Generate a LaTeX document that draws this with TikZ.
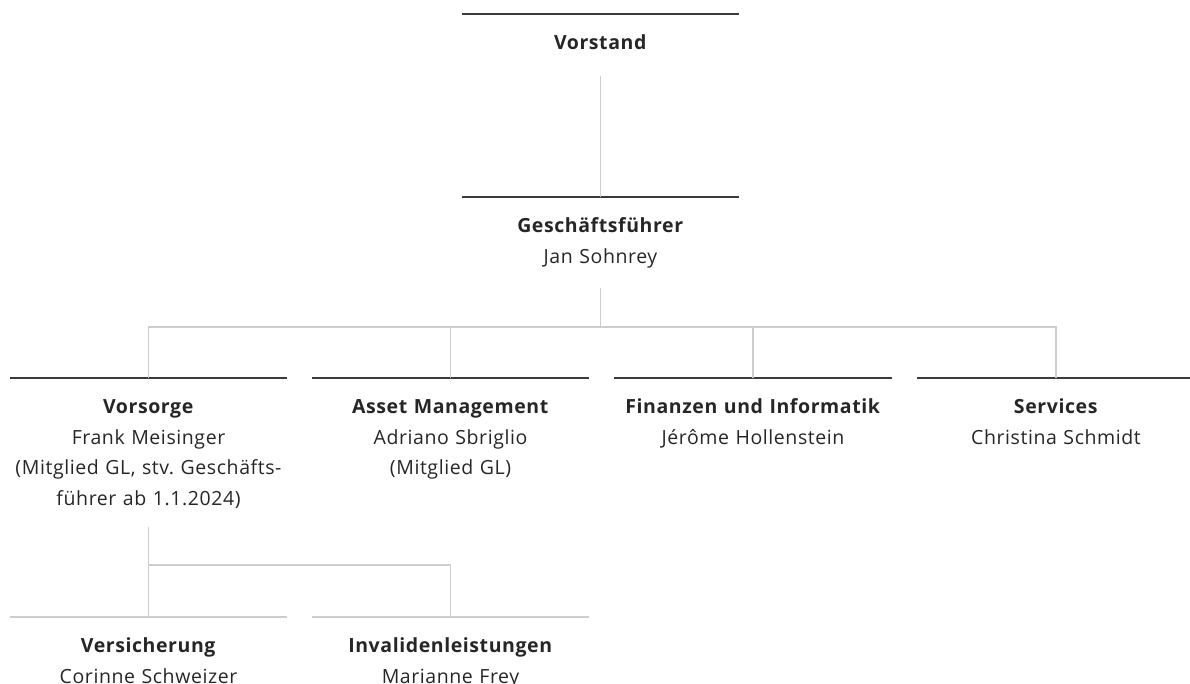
\documentclass[tikz,border=0pt]{standalone}
\usepackage{fontspec}
\setmainfont[LetterSpace=3]{Open Sans}
\usetikzlibrary{positioning}
\definecolor{ink}{HTML}{262626}
\definecolor{rule}{HTML}{3A3A3A}
\definecolor{link}{HTML}{CDCDCD}
\frenchspacing
\begin{document}
\begin{tikzpicture}[x=1pt,y=-1pt,
  unit/.style={anchor=north,text width=277pt,align=center,inner xsep=0pt,inner ysep=14pt,text=ink,font=\fontsize{19.5}{30.5}\selectfont,execute at begin node=\strut},
  head/.style={draw=rule,line width=1.4pt},
  sub/.style={draw=link,line width=1.2pt},
  conn/.style={draw=link,line width=1.1pt}]
  \useasboundingbox (0,0) rectangle (1190,684);
  \node[unit] (vst) at (600.5,14) {\textbf{Vorstand}};
  \node[unit] (gf) at (600.5,197) {\textbf{Geschäftsführer}\\Jan Sohnrey};
  \node[unit] (vor) at (148.5,378) {\textbf{Vorsorge}\\Frank Meisinger\\(Mitglied GL, stv. Geschäfts-\\führer ab 1.1.2024)};
  \node[unit] (am) at (450.5,378) {\textbf{Asset Management}\\Adriano Sbriglio\\(Mitglied GL)};
  \node[unit] (fin) at (753,378) {\textbf{Finanzen und Informatik}\\Jérôme Hollenstein};
  \node[unit] (svc) at (1056,378) {\textbf{Services}\\Christina Schmidt};
  \node[unit] (ver) at (148.5,617) {\textbf{Versicherung}\\Corinne Schweizer};
  \node[unit] (inv) at (450.5,617) {\textbf{Invalidenleistungen}\\Marianne Frey};
  \coordinate (bus) at (600.5,327);
  \coordinate (sbus) at (148.5,565);
  \foreach \n in {vst,gf,vor,am,fin,svc}
    \draw[head] (\n.north west) -- (\n.north east);
  \foreach \n in {ver,inv}
    \draw[sub] (\n.north west) -- (\n.north east);
  \draw[conn,shorten <=3pt] (vst.south) -- (gf.north);
  \draw[conn,shorten <=6pt] (gf.south) -- (bus);
  \draw[conn] (vor.north) |- (bus) -| (svc.north);
  \draw[conn] (am.north) -- (am.north |- bus);
  \draw[conn] (fin.north) -- (fin.north |- bus);
  \draw[conn,shorten <=5pt] (vor.south) -- (ver.north);
  \draw[conn] (sbus) -| (inv.north);
\end{tikzpicture}
\end{document}
